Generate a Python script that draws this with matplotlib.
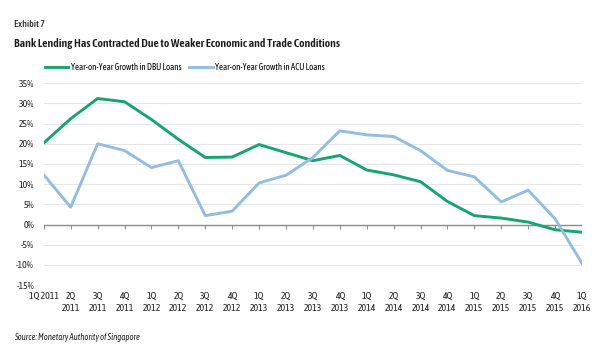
import matplotlib.pyplot as plt
from matplotlib import font_manager

quarters = ['1Q 2011', '2Q\n2011', '3Q\n2011', '4Q\n2011', '1Q\n2012', '2Q\n2012',
            '3Q\n2012', '4Q\n2012', '1Q\n2013', '2Q\n2013', '3Q\n2013', '4Q\n2013',
            '1Q\n2014', '2Q\n2014', '3Q\n2014', '4Q\n2014', '1Q\n2015', '2Q\n2015',
            '3Q\n2015', '4Q\n2015', '1Q\n2016']
dbu = [20.2, 26.2, 31.2, 30.4, 26.0, 21.1, 16.6, 16.7, 19.8, 17.8, 15.8, 17.1,
       13.5, 12.3, 10.6, 5.7, 2.2, 1.6, 0.6, -1.3, -1.9]
acu = [12.3, 4.3, 20.0, 18.3, 14.1, 15.8, 2.2, 3.3, 10.3, 12.2, 16.6, 23.2,
       22.2, 21.8, 18.3, 13.4, 11.8, 5.6, 8.5, 1.4, -9.6]
yticks = list(range(-15, 40, 5))

# condensed face, like the Myriad Condensed of the original
names = {f.name for f in font_manager.fontManager.ttflist}
face = next((n for n in ['Asap Condensed', 'Barlow Semi Condensed', 'Archivo Narrow']
             if n in names), 'DejaVu Sans')
plt.rcParams['font.family'] = [face, 'DejaVu Sans']

green = '#17a56f'
blue = '#93bde2'

fig = plt.figure(figsize=(6, 3.6), dpi=100)
ax = fig.add_axes([0.073, 0.208, 0.897, 0.561])

x = list(range(len(quarters)))
ax.plot(x, dbu, color=green, lw=2.1, label='Year-on-Year Growth in DBU Loans',
        solid_joinstyle='round', zorder=3)
ax.plot(x, acu, color=blue, lw=2.1, label='Year-on-Year Growth in ACU Loans',
        solid_joinstyle='round', zorder=3)

ax.set_xlim(0, len(quarters) - 1)
ax.set_ylim(-15, 35)
ax.set_yticks(yticks)
ax.set_yticklabels([f'{v}%' for v in yticks])
ax.yaxis.grid(True, color='#e6e6e6', lw=0.8)
ax.set_axisbelow(True)
for s in ax.spines.values():
    s.set_visible(False)
ax.axhline(0, color='#8c8c8c', lw=1.0, zorder=2)
ax.vlines(x, -1.0, 0, color='#8c8c8c', lw=0.8, zorder=2)

ax.set_xticks(x)
ax.set_xticklabels(quarters, fontsize=7, linespacing=1.45, va='top')
ax.tick_params(axis='both', length=0, labelsize=7, colors='#222222')
ax.tick_params(axis='x', pad=5)
ax.tick_params(axis='y', pad=7)

fig.legend(loc='upper left', bbox_to_anchor=(0.069, 0.835), ncol=2, frameon=False,
           fontsize=6.4, handlelength=2.6, handletextpad=0.3, columnspacing=0.9,
           borderaxespad=0)

fig.text(0.023, 0.925, 'Exhibit 7', fontsize=7, fontweight='medium', color='#222222')
fig.text(0.023, 0.87, 'Bank Lending Has Contracted Due to Weaker Economic and Trade Conditions',
         fontsize=8.5, fontweight='semibold', color='#1a1a1a')
fig.text(0.023, 0.055, 'Source: Monetary Authority of Singapore', fontsize=6.2,
         style='italic', color='#222222')

fig.savefig('out.png', dpi=100)
